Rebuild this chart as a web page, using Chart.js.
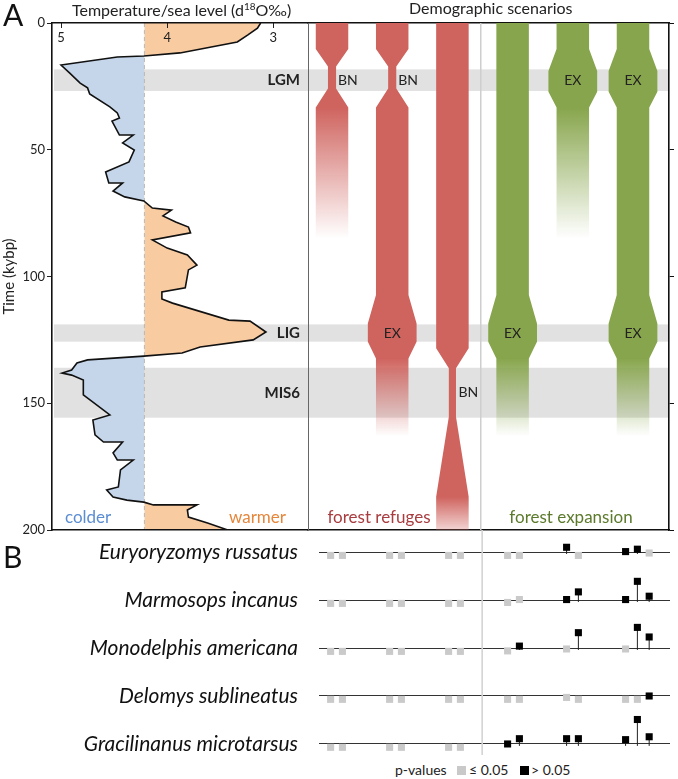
<!DOCTYPE html>
<html>
<head>
<meta charset="utf-8">
<script src="https://cdn.jsdelivr.net/npm/chart.js@4.4.0/dist/chart.umd.min.js"></script>
<style>
  body { margin: 0; background: #fff; font-family: Lato, "Open Sans", sans-serif; }
  #page { position: relative; width: 678px; height: 779px; overflow: hidden; }
  .box { position: absolute; }
  .txt { position: absolute; color: #222; white-space: nowrap; line-height: 1; }
  .panel { font-size: 30px; color: #111; }
  .head { font-size: 16px; }
  .head sup { font-size: 10px; vertical-align: 6px; line-height: 0; }
  .key { font-size: 14px; }
  .swatch { position: absolute; width: 9px; height: 9px; }
</style>
</head>
<body>
<div id="page">
  <div class="box" style="left:0;top:0;width:312px;height:540px"><canvas id="climate"></canvas></div>
  <div class="box" style="left:300px;top:0;width:378px;height:540px"><canvas id="scenarios"></canvas></div>
  <div class="box" style="left:0;top:530px;width:678px;height:225px"><canvas id="tests"></canvas></div>

  <div class="txt panel" style="left:3px;top:-1px">A</div>
  <div class="txt panel" style="left:3px;top:541px">B</div>
  <div class="txt head" style="left:72px;top:2px">Temperature/sea level (d<sup>18</sup>O‰)</div>
  <div class="txt head" style="left:409px;top:0px">Demographic scenarios</div>

  <div class="txt key" style="left:395px;top:763px">p-values</div>
  <div class="swatch" style="left:457px;top:766px;background:#c9c9c9"></div>
  <div class="txt key" style="left:469px;top:763px">≤ 0.05</div>
  <div class="swatch" style="left:520px;top:766px;background:#000"></div>
  <div class="txt key" style="left:531px;top:763px">&gt; 0.05</div>
</div>
<script>
Chart.defaults.font.family = "Lato, 'Open Sans', sans-serif";
Chart.defaults.color = "#222";

// climate record (d18O, per mil) against age in kybp
let climateAge = [0, 2.0, 4.7, 7.5, 11.8, 13.0, 13.4, 16.6, 19.7, 23.7, 25.6, 28.0, 33.1, 35.5, 37.5, 38.7,
  44.2, 44.2, 47.3, 50.1, 54.8, 58.8, 63.1, 63.1, 66.3, 68.6, 70.2, 73.0, 73.8, 76.1, 78.5, 80.5, 82.8,
  85.6, 88.8, 91.5, 95.5, 97.4, 104.5, 106.1, 108.9, 110.5, 117.2, 117.6, 121.9, 125.0, 127.8, 130.2,
  131.4, 132.9, 134.1, 136.9, 138.1, 138.9, 140.8, 146.7, 154.6, 156.6, 162.5, 165.3, 165.3, 169.6,
  172.4, 172.4, 176.3, 183.0, 184.2, 187.0, 188.2, 189.0, 190.1, 190.1, 192.1, 194.9, 197.2, 200];
let d18O = [3.12, 3.15, 3.24, 3.34, 3.88, 4.22, 4.47, 5.00, 4.92, 4.82, 4.75, 4.73, 4.54, 4.47, 4.45, 4.52,
  4.45, 4.32, 4.42, 4.31, 4.36, 4.58, 4.55, 4.42, 4.51, 4.40, 4.22, 4.14, 3.96, 4.04, 3.92, 3.80, 3.78,
  4.14, 4.00, 3.81, 3.72, 3.80, 3.83, 4.05, 4.05, 3.95, 3.42, 3.22, 3.07, 3.19, 3.69, 3.86,
  4.22, 4.75, 4.85, 4.90, 4.99, 4.90, 4.79, 4.79, 4.54, 4.70, 4.68, 4.60, 4.42, 4.51,
  4.47, 4.32, 4.44, 4.46, 4.57, 4.51, 4.38, 4.22, 4.13, 3.72, 3.81, 3.80, 3.62, 3.43];
let climateRef = 4.215;
let climateTicks = [5, 4, 3];
let ageTicks = [0, 50, 100, 150, 200];

// climate periods
let bandNames = ["LGM", "LIG", "MIS6"];
let bandStart = [18.3, 118.9, 136.0];
let bandEnd = [26.8, 125.7, 155.7];

// demographic scenarios: outline times and relative population size
let scenarioGroup = ["refuge", "refuge", "refuge", "expansion", "expansion", "expansion"];
let tubeTime = [
  [0, 10.3, 17.2, 25.8, 33.3, 85],
  [0, 10.3, 17.2, 25.8, 33.3, 107.3, 118.5, 125.7, 132.3, 163],
  [0, 128.3, 136.2, 155.3, 186.9, 200],
  [0, 107.3, 118.5, 125.7, 132.3, 163],
  [0, 10.3, 18.9, 27.1, 33.3, 85],
  [0, 10.3, 18.9, 27.1, 33.3, 107.3, 118.5, 125.7, 132.3, 163]
];
let tubeSize = [
  [1, 1, 0.25, 0.25, 1, 1],
  [1, 1, 0.25, 0.25, 1, 1, 1.5, 1.5, 1, 1],
  [1, 1, 0.22, 0.22, 1, 1],
  [1, 1, 1.5, 1.5, 1, 1],
  [1, 1, 1.5, 1.5, 1, 1],
  [1, 1, 1.5, 1.5, 1, 1, 1.5, 1.5, 1, 1]
];
let fadeStart = [33.3, 132.3, 186.9, 132.3, 33.3, 132.3];
let fadeEnd = [85, 163, 205, 163, 85, 163];

let eventScenario = [1, 2, 5, 6, 2, 4, 6, 3];
let eventBand = [0, 0, 0, 0, 1, 1, 1, 2];
let eventType = ["BN", "BN", "EX", "EX", "EX", "EX", "EX", "BN"];

// panel B: tests per scenario, height above the line and p-value class (1 = p <= 0.05)
let species = ["Euryoryzomys russatus", "Marmosops incanus", "Monodelphis americana",
  "Delomys sublineatus", "Gracilinanus microtarsus"];
let testScenario = [1, 1, 2, 2, 3, 3, 4, 4, 5, 5, 6, 6, 6];
let testSlot = [-1, 1, -1, 1, -1, 1, -1, 1, -1, 1, -1, 1, 3];
let testHeight = [
  [-0.07, -0.07, -0.07, -0.07, -0.07, -0.07, -0.07, -0.07, 0.10, -0.07, 0.01, 0.06, -0.02],
  [-0.07, -0.07, -0.07, -0.07, -0.07, -0.07, -0.05, 0.01, 0.01, 0.17, 0.01, 0.39, 0.08],
  [-0.07, -0.07, -0.07, -0.07, -0.07, -0.07, -0.06, 0.04, -0.02, 0.32, -0.02, 0.43, 0.23],
  [-0.07, -0.07, -0.07, -0.07, -0.07, -0.07, -0.07, -0.07, -0.03, -0.07, -0.07, -0.07, 0],
  [-0.07, -0.07, -0.07, -0.07, -0.07, -0.07, 0, 0.11, 0.11, 0.11, 0.09, 0.51, 0.15]
];
let testLowP = [
  [1, 1, 1, 1, 1, 1, 1, 1, 0, 1, 0, 0, 1],
  [1, 1, 1, 1, 1, 1, 1, 1, 0, 0, 0, 0, 0],
  [1, 1, 1, 1, 1, 1, 1, 0, 1, 0, 1, 0, 0],
  [1, 1, 1, 1, 1, 1, 1, 1, 1, 1, 1, 1, 0],
  [1, 1, 1, 1, 1, 1, 0, 0, 0, 0, 0, 0, 0]
];

// styles
let refugeRgb = "207,99,94";
let expansionRgb = "135,165,76";
let halfWidth = 0.27;
let groupDivider = 3.47;
let slotStep = 0.1;

function bandMid(i) {
  return (bandStart[i] + bandEnd[i]) / 2;
}

// fixed axis size, no extra room for the end labels
function fixSize(size) {
  return s => {
    if (s.isHorizontal()) s.height = size; else s.width = size;
    s.paddingTop = 0;
    s.paddingBottom = 0;
    s.paddingLeft = 0;
    s.paddingRight = 0;
  };
}

// grey period bands behind everything
function bandsPlugin(inset) {
  return {
    id: "bands",
    beforeDraw(chart) {
      let {ctx, chartArea, scales} = chart;
      ctx.save();
      ctx.fillStyle = "#e1e1e1";
      bandStart.forEach((start, i) => {
        let top = scales.y.getPixelForValue(start);
        let bottom = scales.y.getPixelForValue(bandEnd[i]);
        ctx.fillRect(chartArea.left + inset, top, chartArea.right - chartArea.left - inset, bottom - top);
      });
      ctx.restore();
    }
  };
}

// colder / warmer fill either side of the reference line
let climateFill = {
  id: "climateFill",
  beforeDatasetsDraw(chart) {
    let {ctx, chartArea} = chart;
    let pts = chart.getDatasetMeta(0).data;
    let ref = chart.scales.x.getPixelForValue(climateRef);
    let path = new Path2D();
    path.moveTo(ref, pts[0].y);
    pts.forEach(p => path.lineTo(p.x, p.y));
    path.lineTo(ref, pts[pts.length - 1].y);
    path.closePath();

    ctx.save();
    ctx.beginPath();
    ctx.rect(chartArea.left, chartArea.top, ref - chartArea.left, chartArea.bottom - chartArea.top);
    ctx.clip();
    ctx.fillStyle = "#c5d6ea";
    ctx.fill(path);
    ctx.restore();

    ctx.save();
    ctx.beginPath();
    ctx.rect(ref, chartArea.top, chartArea.right - ref, chartArea.bottom - chartArea.top);
    ctx.clip();
    ctx.fillStyle = "#f9cba1";
    ctx.fill(path);
    ctx.restore();
  }
};

let climateNotes = {
  id: "climateNotes",
  afterDatasetsDraw(chart) {
    let {ctx, chartArea, scales} = chart;
    ctx.save();
    ctx.textBaseline = "middle";
    ctx.textAlign = "right";
    ctx.font = "bold 15px Lato";
    ctx.fillStyle = "#222";
    bandNames.forEach((name, i) => {
      ctx.fillText(name, chartArea.right - 8, scales.y.getPixelForValue(bandMid(i)));
    });
    ctx.font = "17px Lato";
    ctx.textAlign = "center";
    ctx.fillStyle = "#5b8dd3";
    ctx.fillText("colder", scales.x.getPixelForValue(4.745), scales.y.getPixelForValue(195));
    ctx.fillStyle = "#e5863b";
    ctx.fillText("warmer", scales.x.getPixelForValue(3.15), scales.y.getPixelForValue(195));
    ctx.restore();
  }
};

let scenarioNotes = {
  id: "scenarioNotes",
  afterDatasetsDraw(chart) {
    let {ctx, scales} = chart;
    ctx.save();
    ctx.textBaseline = "middle";
    ctx.font = "14px Lato";
    ctx.fillStyle = "#222";
    eventScenario.forEach((s, i) => {
      let y = scales.y.getPixelForValue(bandMid(eventBand[i]));
      let x = scales.x.getPixelForValue(s);
      if (eventType[i] === "BN") {
        ctx.textAlign = "left";
        ctx.fillText("BN", x + 6, y);
      } else {
        ctx.textAlign = "center";
        ctx.fillText("EX", x, y);
      }
    });
    ctx.font = "17px Lato";
    ctx.textAlign = "center";
    ctx.fillStyle = "#a83c3f";
    ctx.fillText("forest refuges", scales.x.getPixelForValue(1.78), scales.y.getPixelForValue(195));
    ctx.fillStyle = "#5c7a2c";
    ctx.fillText("forest expansion", scales.x.getPixelForValue(4.97), scales.y.getPixelForValue(195));
    ctx.restore();
  }
};

// panel A, left: climate curve
new Chart(document.getElementById("climate"), {
  type: "line",
  data: {
    datasets: [
      {
        label: "d18O",
        data: d18O.map((v, i) => ({x: v, y: climateAge[i]})),
        borderColor: "#111",
        borderWidth: 1.6,
        pointRadius: 0,
        fill: false,
        tension: 0
      },
      {
        label: "reference",
        data: [{x: climateRef, y: 0}, {x: climateRef, y: 200}],
        borderColor: "#b8b8b8",
        borderWidth: 1,
        borderDash: [4, 3],
        pointRadius: 0,
        fill: false
      }
    ]
  },
  options: {
    responsive: true,
    maintainAspectRatio: false,
    animation: false,
    events: [],
    layout: {autoPadding: false, padding: {top: 0, right: 4, bottom: 0, left: 0}},
    plugins: {legend: {display: false}, tooltip: {enabled: false}},
    scales: {
      x: {
        type: "linear",
        position: "top",
        reverse: true,
        min: 2.674,
        max: 5.085,
        afterBuildTicks: s => { s.ticks = climateTicks.map(v => ({value: v})); },
        ticks: {font: {size: 13}, color: "#222", padding: 7, maxRotation: 0, mirror: true, z: 1},
        grid: {drawOnChartArea: false, tickLength: -5, color: "#222", z: 1},
        border: {color: "#111", width: 1.6, z: 1},
        afterFit: fixSize(23)
      },
      xBottom: {
        type: "linear",
        position: "bottom",
        min: 0,
        max: 1,
        ticks: {display: false},
        grid: {drawOnChartArea: false, drawTicks: false},
        border: {color: "#111", width: 1.6, z: 1},
        afterFit: fixSize(10)
      },
      y: {
        type: "linear",
        reverse: true,
        min: 0,
        max: 200,
        afterBuildTicks: s => { s.ticks = ageTicks.map(v => ({value: v})); },
        ticks: {font: {size: 13}, color: "#222", padding: 2},
        grid: {drawOnChartArea: false, tickLength: 5, color: "#222"},
        border: {color: "#111", width: 1.6, z: 1},
        title: {display: true, text: "Time (kybp)", font: {size: 15}, color: "#222", padding: {top: 0, bottom: 0}},
        afterFit: fixSize(52)
      }
    }
  },
  plugins: [bandsPlugin(2), climateFill, climateNotes]
});

// panel A, right: scenario tubes
function fadeFill(rgb, from, to) {
  return context => {
    let chart = context.chart;
    let y = chart.scales.y;
    if (!chart.chartArea || !y) return "rgb(" + rgb + ")";
    let g = chart.ctx.createLinearGradient(0, y.getPixelForValue(from), 0, y.getPixelForValue(to));
    g.addColorStop(0, "rgba(" + rgb + ",1)");
    g.addColorStop(1, "rgba(" + rgb + ",0)");
    return g;
  };
}

let scenarioSets = [{
  label: "divider",
  data: [{x: groupDivider, y: 0}, {x: groupDivider, y: 200}],
  borderColor: "#cfcfcf",
  borderWidth: 1,
  pointRadius: 0,
  fill: false
}];
tubeTime.forEach((times, i) => {
  let col = i + 1;
  let rgb = scenarioGroup[i] === "refuge" ? refugeRgb : expansionRgb;
  scenarioSets.push({
    label: "scenario " + col + " edge",
    data: times.map((t, j) => ({x: col - tubeSize[i][j] * halfWidth, y: t})),
    borderWidth: 0,
    pointRadius: 0,
    fill: false
  });
  scenarioSets.push({
    label: "scenario " + col,
    data: times.map((t, j) => ({x: col + tubeSize[i][j] * halfWidth, y: t})),
    borderWidth: 0,
    pointRadius: 0,
    fill: "-1",
    backgroundColor: fadeFill(rgb, fadeStart[i], fadeEnd[i])
  });
});

new Chart(document.getElementById("scenarios"), {
  type: "line",
  data: {datasets: scenarioSets},
  options: {
    indexAxis: "y",
    responsive: true,
    maintainAspectRatio: false,
    animation: false,
    events: [],
    layout: {autoPadding: false, padding: 0},
    plugins: {legend: {display: false}, tooltip: {enabled: false}},
    scales: {
      x: {
        type: "linear",
        position: "bottom",
        min: 0.601,
        max: 6.598,
        ticks: {display: false},
        grid: {drawOnChartArea: false, drawTicks: false},
        border: {color: "#111", width: 1.6},
        afterFit: fixSize(10)
      },
      xTop: {
        type: "linear",
        position: "top",
        min: 0.601,
        max: 6.598,
        ticks: {display: false},
        grid: {drawOnChartArea: false, drawTicks: false},
        border: {color: "#111", width: 1.6},
        afterFit: fixSize(23)
      },
      y: {
        type: "linear",
        position: "right",
        reverse: true,
        min: 0,
        max: 200,
        afterBuildTicks: s => { s.ticks = ageTicks.map(v => ({value: v})); },
        ticks: {display: false},
        grid: {drawOnChartArea: false, tickLength: 5, color: "#111"},
        border: {color: "#111", width: 1.6},
        afterFit: fixSize(9)
      },
      yLeft: {
        type: "linear",
        position: "left",
        reverse: true,
        min: 0,
        max: 200,
        ticks: {display: false},
        grid: {drawOnChartArea: false, drawTicks: false},
        border: {color: "#666", width: 1},
        afterFit: fixSize(8)
      }
    }
  },
  plugins: [bandsPlugin(0), scenarioNotes]
});

// panel B: test results per species
let lowPoints = [];
let highPoints = [];
let stems = [];
species.forEach((name, r) => {
  testScenario.forEach((s, j) => {
    let x = s + testSlot[j] * slotStep;
    let h = testHeight[r][j];
    let point = {x: x, y: r - h};
    if (testLowP[r][j]) {
      lowPoints.push(point);
    } else {
      highPoints.push(point);
      if (h > 0.02) {
        stems.push({x: x, y: r + 0.04}, {x: x, y: r - h}, {x: x, y: null});
      }
    }
  });
});

new Chart(document.getElementById("tests"), {
  type: "line",
  data: {
    datasets: [
      {label: "> 0.05", data: highPoints, showLine: false, pointStyle: "rect", pointRadius: 5,
        pointBackgroundColor: "#000", pointBorderWidth: 0},
      {label: "\u2264 0.05", data: lowPoints, showLine: false, pointStyle: "rect", pointRadius: 5,
        pointBackgroundColor: "#cacaca", pointBorderWidth: 0},
      {label: "stems", data: stems, borderColor: "#222", borderWidth: 1, pointRadius: 0, spanGaps: false, fill: false},
      {label: "divider", data: [{x: groupDivider, y: -0.46}, {x: groupDivider, y: 4.23}],
        borderColor: "#d4d4d4", borderWidth: 1, pointRadius: 0, fill: false}
    ]
  },
  options: {
    responsive: true,
    maintainAspectRatio: false,
    animation: false,
    events: [],
    layout: {autoPadding: false, padding: {top: 0, right: 8, bottom: 0, left: 0}},
    plugins: {legend: {display: false}, tooltip: {enabled: false}},
    scales: {
      x: {type: "linear", display: false, min: 0.703, max: 6.653},
      y: {
        type: "linear",
        reverse: true,
        min: -0.46,
        max: 4.23,
        afterBuildTicks: s => { s.ticks = species.map((n, i) => ({value: i})); },
        ticks: {
          callback: v => species[v],
          font: {size: 21, style: "italic"},
          color: "#111",
          padding: 21,
          autoSkip: false
        },
        grid: {color: "#333", lineWidth: 1, drawTicks: false},
        border: {display: false},
        afterFit: fixSize(319)
      }
    }
  }
});
</script>
</body>
</html>
